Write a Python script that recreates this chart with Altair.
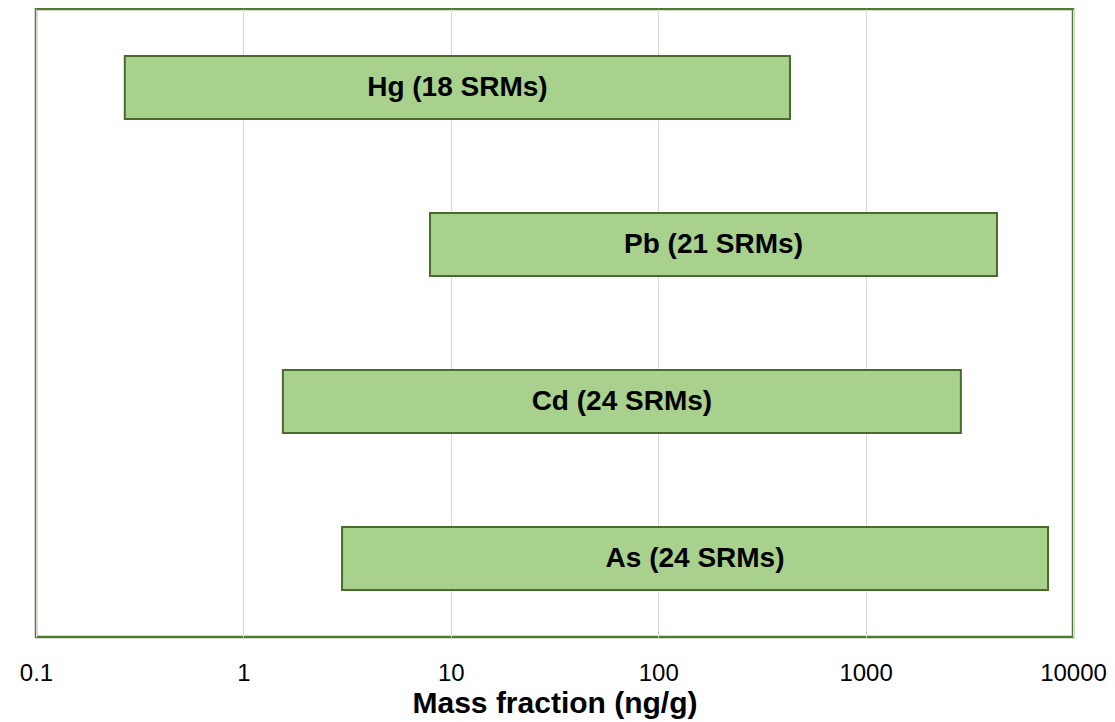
import altair as alt
import pandas as pd

elements = ["Hg", "Pb", "Cd", "As"]
labels = ["Hg (18 SRMs)", "Pb (21 SRMs)", "Cd (24 SRMs)", "As (24 SRMs)"]
low = [0.268, 7.94, 1.55, 2.99]
high = [432, 4300, 2880, 7580]
tick_values = [0.1, 1, 10, 100, 1000, 10000]

df = pd.DataFrame({"element": elements, "label": labels, "low": low, "high": high})

FONT = "Liberation Sans"
x_scale = alt.Scale(type="log", domain=[0.1, 10000], nice=False)
y_enc = alt.Y("element:N", sort=elements,
              scale=alt.Scale(paddingInner=0.6, paddingOuter=0.3), axis=None)

bars = alt.Chart(df).mark_bar(color="#a9d18e", stroke="#4a6b2c", strokeWidth=2).encode(
    x=alt.X("low:Q", scale=x_scale,
            axis=alt.Axis(values=tick_values, format="~g", title="Mass fraction (ng/g)",
                          grid=True, gridColor="#d9d9d9", gridWidth=1,
                          domain=False, ticks=False, labelFontSize=24, labelFont=FONT,
                          labelColor="#000000", labelPadding=24, labelFlush=False,
                          titleFont=FONT, titleFontSize=30, titleFontWeight="bold",
                          titleColor="#000000", titlePadding=3)),
    x2="high:Q",
    y=y_enc,
)

text = alt.Chart(df).transform_calculate(
    mid="sqrt(datum.low * datum.high)"
).mark_text(font=FONT, fontSize=28, fontWeight="bold", color="#000000").encode(
    x=alt.X("mid:Q", scale=x_scale),
    y=y_enc,
    text="label:N",
)

chart = (bars + text).properties(
    width=1037, height=628,
    background="#ffffff",
    autosize=alt.AutoSizeParams(type="none"),
    padding={"left": 28, "top": 1, "right": 34, "bottom": 84},
).configure_view(stroke="#4e7b2f", strokeWidth=2.5)

chart.save("out.html", embed_options={"renderer": "svg", "actions": False})
